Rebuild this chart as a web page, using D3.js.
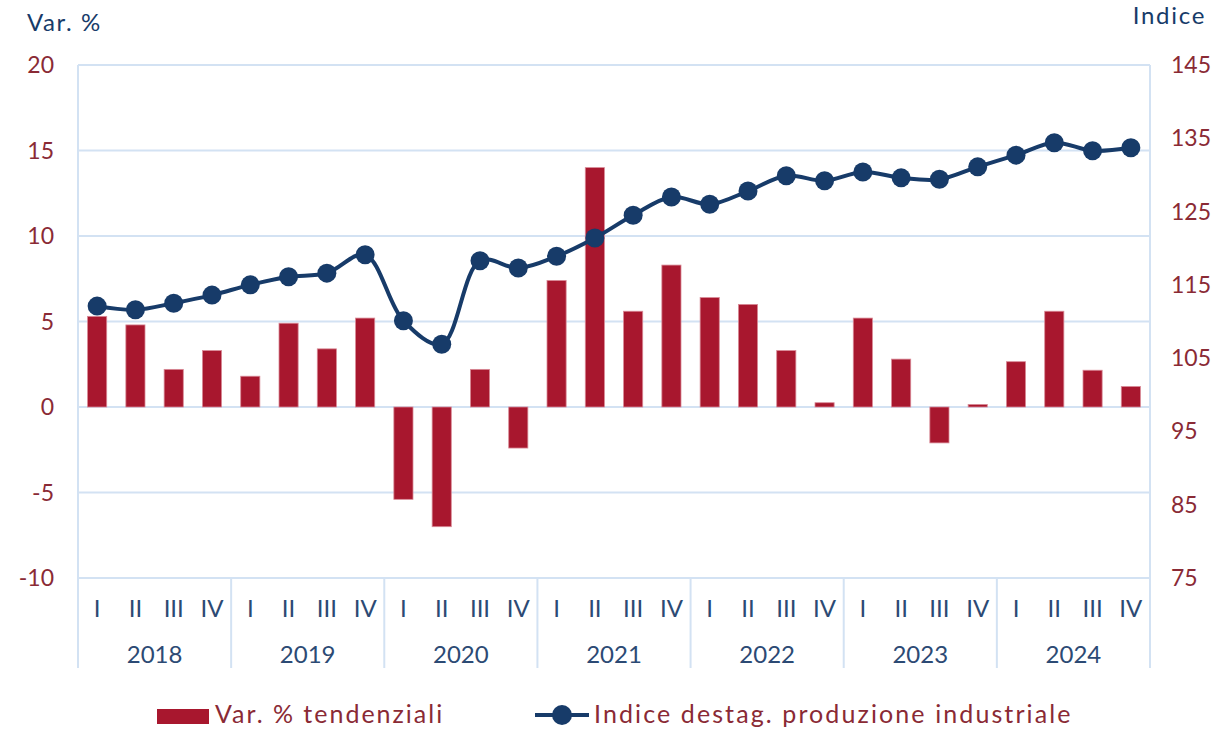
<html>
<head>
	<script src="https://d3js.org/d3.v7.min.js"></script>
	<style>
		body { margin: 0; background: #fff; }
		svg { display: block; }
		text { font-family: Lato, "Noto Sans", sans-serif; }
	</style>
</head>
<body>
	<div id="chart"></div>
	<script type="text/javascript">

		var years = ["2018", "2019", "2020", "2021", "2022", "2023", "2024"];
		var quarters = ["I", "II", "III", "IV"];

		// Var. % tendenziali (left axis)
		var varPct = [
			5.3, 4.8, 2.2, 3.3,
			1.8, 4.9, 3.4, 5.2,
			-5.4, -7.0, 2.2, -2.4,
			7.4, 14.0, 5.6, 8.3,
			6.4, 6.0, 3.3, 0.25,
			5.2, 2.8, -2.1, 0.15,
			2.65, 5.6, 2.15, 1.2
		];

		// Indice destag. produzione industriale (right axis)
		var indice = [
			112.1, 111.6, 112.5, 113.6,
			115.0, 116.1, 116.6, 119.1,
			110.1, 106.9, 118.3, 117.3,
			118.9, 121.4, 124.5, 127.0,
			126.0, 127.8, 129.9, 129.2,
			130.4, 129.6, 129.4, 131.1,
			132.7, 134.4, 133.3, 133.7
		];

		var leftTicks = [20, 15, 10, 5, 0, -5, -10];
		var rightTicks = [145, 135, 125, 115, 105, 95, 85, 75];

		var W = 1216, H = 729;
		var m = {left: 78, right: 1150, top: 65, bottom: 578};

		var periods = [];
		years.forEach(function(y) {
			quarters.forEach(function(q) { periods.push(y + "-" + q); });
		});

		var svg = d3.select('#chart')
			.append('svg')
				.attr('width', W)
				.attr('height', H);

		var x = d3.scaleBand()
			.domain(periods)
			.range([m.left, m.right])
			.paddingInner(0.5)
			.paddingOuter(0.25);

		var yL = d3.scaleLinear().domain([-10, 20]).range([m.bottom, m.top]);
		var yR = d3.scaleLinear().domain([75, 145]).range([m.bottom, m.top]);

		var grid = '#d3e2f3';
		var navy = '#173b69';
		var red = '#a8172e';
		var labelRed = '#8a2a35';
		var axisBlue = '#2c4a74';

		// gridlines
		svg.append('g')
			.selectAll('line')
			.data(leftTicks)
			.enter()
			.append('line')
				.attr('x1', m.left)
				.attr('x2', m.right)
				.attr('y1', (d) => yL(d))
				.attr('y2', (d) => yL(d))
				.attr('stroke', grid)
				.attr('stroke-width', 2);

		// borders + year separators
		var sepX = years.map((y) => x(y + "-I") - x.step() * 0.25);
		sepX.push(m.right);
		svg.append('g')
			.selectAll('line')
			.data(sepX)
			.enter()
			.append('line')
				.attr('x1', (d) => d)
				.attr('x2', (d) => d)
				.attr('y1', (d, i) => (i == 0 || i == sepX.length - 1) ? m.top : m.bottom)
				.attr('y2', 668)
				.attr('stroke', grid)
				.attr('stroke-width', 2);

		// left axis labels
		svg.append('g')
			.selectAll('text')
			.data(leftTicks)
			.enter()
			.append('text')
				.attr('x', 54)
				.attr('y', (d) => yL(d))
				.attr('dy', '0.35em')
				.attr('text-anchor', 'end')
				.attr('font-size', 23)
				.attr('fill', labelRed)
				.text((d) => d);

		// right axis labels
		svg.append('g')
			.selectAll('text')
			.data(rightTicks)
			.enter()
			.append('text')
				.attr('x', 1171)
				.attr('y', (d) => yR(d))
				.attr('dy', '0.35em')
				.attr('text-anchor', 'start')
				.attr('font-size', 23)
				.attr('fill', labelRed)
				.text((d) => d);

		// axis titles
		svg.append('text')
			.attr('x', 27).attr('y', 31)
			.attr('font-size', 24).attr('fill', navy)
			.attr('letter-spacing', 1.6)
			.text('Var. %');
		svg.append('text')
			.attr('x', 1206).attr('y', 24)
			.attr('text-anchor', 'end')
			.attr('font-size', 24).attr('fill', navy)
			.attr('letter-spacing', 1.7)
			.text('Indice');

		// quarter labels
		svg.append('g')
			.selectAll('text')
			.data(periods)
			.enter()
			.append('text')
				.attr('x', (d) => x(d) + x.bandwidth() / 2)
				.attr('y', 617)
				.attr('text-anchor', 'middle')
				.attr('font-size', 24)
				.attr('fill', axisBlue)
				.text((d) => d.split('-')[1]);

		// year labels
		svg.append('g')
			.selectAll('text')
			.data(years)
			.enter()
			.append('text')
				.attr('x', (d) => (x(d + "-II") + x(d + "-III") + x.bandwidth()) / 2)
				.attr('y', 663)
				.attr('text-anchor', 'middle')
				.attr('font-size', 24)
				.attr('fill', axisBlue)
				.text((d) => d);

		// bars
		svg.append('g')
			.selectAll('rect')
			.data(varPct)
			.enter()
			.append('rect')
				.attr('x', (d, i) => x(periods[i]))
				.attr('width', x.bandwidth())
				.attr('y', (d) => yL(Math.max(0, d)))
				.attr('height', (d) => Math.abs(yL(d) - yL(0)))
				.attr('fill', red)
				.attr('stroke', '#d98a97')
				.attr('stroke-width', 0.8);

		// line
		var line = d3.line()
			.x((d, i) => x(periods[i]) + x.bandwidth() / 2)
			.y((d) => yR(d))
			.curve(d3.curveCatmullRom.alpha(0.5));

		svg.append('path')
			.datum(indice)
			.attr('d', line)
			.attr('fill', 'none')
			.attr('stroke', navy)
			.attr('stroke-width', 4);

		svg.append('g')
			.selectAll('circle')
			.data(indice)
			.enter()
			.append('circle')
				.attr('cx', (d, i) => x(periods[i]) + x.bandwidth() / 2)
				.attr('cy', (d) => yR(d))
				.attr('r', 9.5)
				.attr('fill', navy);

		// legend
		var lg = svg.append('g');
		lg.append('rect')
			.attr('x', 157).attr('y', 709)
			.attr('width', 52).attr('height', 15)
			.attr('fill', red);
		lg.append('text')
			.attr('x', 215).attr('y', 723)
			.attr('font-size', 25).attr('fill', labelRed)
			.attr('letter-spacing', 2)
			.text('Var. % tendenziali');
		lg.append('line')
			.attr('x1', 535).attr('x2', 589)
			.attr('y1', 715).attr('y2', 715)
			.attr('stroke', navy).attr('stroke-width', 4);
		lg.append('circle')
			.attr('cx', 562).attr('cy', 715).attr('r', 10)
			.attr('fill', navy);
		lg.append('text')
			.attr('x', 594).attr('y', 723)
			.attr('font-size', 25).attr('fill', labelRed)
			.attr('letter-spacing', 2.1)
			.text('Indice destag. produzione industriale');
	</script>
</body>
</html>
